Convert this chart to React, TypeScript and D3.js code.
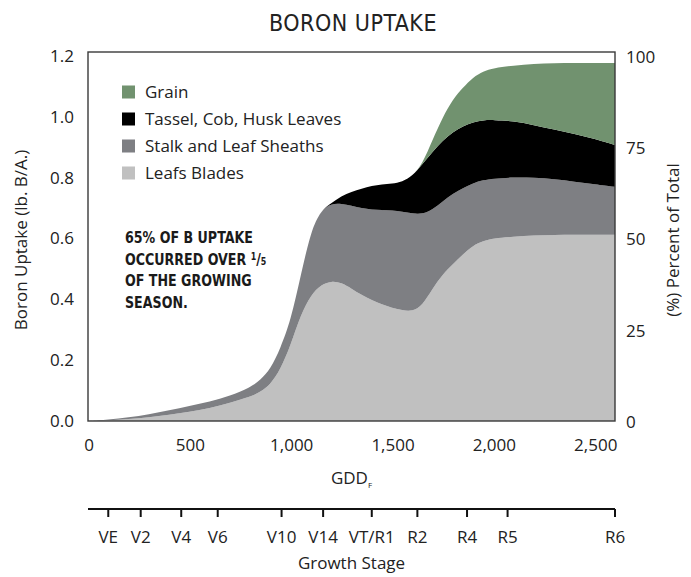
import * as d3 from "d3";

// GDD sample points and per-part boron uptake (lb. B/A.)
const gdd = [0, 100, 200, 300, 400, 500, 600, 700, 800, 850, 900, 950, 1000, 1050, 1100, 1150, 1200, 1250, 1300, 1350, 1400, 1450, 1500, 1550, 1600, 1650, 1700, 1750, 1800, 1850, 1900, 1950, 2000, 2100, 2200, 2300, 2400, 2500, 2600];
const leafBlades = [0, 0.002, 0.006, 0.012, 0.02, 0.03, 0.042, 0.06, 0.08, 0.095, 0.12, 0.17, 0.25, 0.35, 0.415, 0.448, 0.46, 0.455, 0.435, 0.414, 0.397, 0.383, 0.372, 0.364, 0.36, 0.38, 0.435, 0.482, 0.515, 0.548, 0.577, 0.592, 0.6, 0.606, 0.61, 0.612, 0.612, 0.612, 0.612];
const stalkSheaths = [0, 0.002, 0.006, 0.01, 0.015, 0.02, 0.021, 0.023, 0.03, 0.04, 0.05, 0.07, 0.08, 0.13, 0.21, 0.245, 0.255, 0.26, 0.273, 0.286, 0.298, 0.311, 0.32, 0.324, 0.322, 0.3, 0.26, 0.24, 0.232, 0.218, 0.205, 0.2, 0.197, 0.195, 0.19, 0.183, 0.175, 0.166, 0.158];
const tasselCobHusk = [0, 0, 0, 0, 0, 0, 0, 0, 0, 0, 0, 0, 0, 0, 0, 0, 0, 0.025, 0.045, 0.064, 0.078, 0.084, 0.088, 0.098, 0.123, 0.165, 0.19, 0.2, 0.203, 0.203, 0.2, 0.197, 0.193, 0.185, 0.173, 0.163, 0.157, 0.15, 0.137];
const grain = [0, 0, 0, 0, 0, 0, 0, 0, 0, 0, 0, 0, 0, 0, 0, 0, 0, 0, 0, 0, 0, 0, 0, 0, 0, 0, 0.04, 0.077, 0.108, 0.127, 0.148, 0.161, 0.17, 0.183, 0.201, 0.218, 0.233, 0.249, 0.27];

const seriesKeys = ["leaf", "stalk", "tassel", "grain"];
const seriesColors: Record<string, string> = { leaf: "#c0c0c0", stalk: "#7e7f83", tassel: "#000000", grain: "#71926f" };
const legendItems = [
  { key: "grain", label: "Grain" },
  { key: "tassel", label: "Tassel, Cob, Husk Leaves" },
  { key: "stalk", label: "Stalk and Leaf Sheaths" },
  { key: "leaf", label: "Leafs Blades" },
];

const leftTicks = [0, 0.2, 0.4, 0.6, 0.8, 1.0, 1.2];
const rightTicks = [0, 25, 50, 75, 100];
const xTicks = [0, 500, 1000, 1500, 2000, 2500];
const stageNames = ["VE", "V2", "V4", "V6", "V10", "V14", "VT/R1", "R2", "R4", "R5", "R6"];
const stageGdd = [100, 260, 460, 640, 955, 1160, 1400, 1625, 1870, 2070, 2600];

const font = "'Open Sans', Lato, sans-serif";
const condensed = "'Liberation Sans Narrow', 'DejaVu Sans Condensed', sans-serif";
const fs = 17;

export default function App() {
  const width = 691;
  const height = 577;
  const left = 88, right = 615, top = 52, bottom = 421;

  const x = d3.scaleLinear().domain([0, 2600]).range([left, right]);
  const y = d3.scaleLinear().domain([0, 1.2]).range([bottom, 56]);
  const yPct = d3.scaleLinear().domain([0, 100]).range([422, 57]);

  const rows = gdd.map((g, i) => ({
    gdd: g,
    leaf: leafBlades[i],
    stalk: stalkSheaths[i],
    tassel: tasselCobHusk[i],
    grain: grain[i],
  }));
  const stacked = d3.stack<any>().keys(seriesKeys)(rows);

  const area = d3
    .area<any>()
    .x((d) => x(d.data.gdd))
    .y0((d) => y(d[0]))
    .y1((d) => y(d[1]))
    .curve(d3.curveBasis);

  const stageY = 509;

  return (
    <svg width={width} height={height} style={{ display: "block", position: "absolute", left: 0, top: 0 }}>
      <rect width={width} height={height} fill="#fff" />
      <text x={353} y={31} textAnchor="middle" fontFamily={condensed} fontSize={23} fill="#222" letterSpacing={0.5}>
        BORON UPTAKE
      </text>

      {stacked.map((s) => (
        <path key={s.key} d={area(s) || ""} fill={seriesColors[s.key]} />
      ))}

      <rect x={left} y={top} width={right - left} height={bottom - top} fill="none" stroke="#3a3a3a" strokeWidth={1.4} />

      {leftTicks.map((t) => (
        <text key={t} x={74} y={y(t)} dy="0.35em" textAnchor="end" fontFamily={font} fontSize={fs} fill="#222">
          {d3.format(".1f")(t)}
        </text>
      ))}
      {rightTicks.map((t) => (
        <text key={t} x={626} y={yPct(t)} dy="0.35em" textAnchor="start" fontFamily={font} fontSize={fs} fill="#222">
          {t}
        </text>
      ))}
      {xTicks.map((t) => (
        <text key={t} x={x(t) + 1} y={445} dy="0.35em" textAnchor="middle" fontFamily={font} fontSize={fs} fill="#222">
          {d3.format(",")(t)}
        </text>
      ))}

      <text x={(left + right) / 2} y={484} textAnchor="middle" fontFamily={font} fontSize={fs} fill="#222">
        GDD<tspan fontSize={8} dy={4}>F</tspan>
      </text>
      <text transform="translate(27,240) rotate(-90)" textAnchor="middle" fontFamily={font} fontSize={fs} fill="#222">
        Boron Uptake (lb. B/A.)
      </text>
      <text transform="translate(679,240) rotate(-90)" textAnchor="middle" fontFamily={font} fontSize={fs} fill="#222">
        (%) Percent of Total
      </text>

      {legendItems.map((item, i) => (
        <g key={item.key} transform={`translate(122,${92 + i * 27})`}>
          <rect x={0} y={-6.5} width={13} height={13} fill={seriesColors[item.key]} />
          <text x={23} y={0} dy="0.35em" fontFamily={font} fontSize={fs} fill="#222">
            {item.label}
          </text>
        </g>
      ))}

      <g transform="translate(125,0) scale(0.88,1)" fontFamily={condensed} fontWeight="bold" fontSize={16} fill="#1a1a1a">
        <text x={0} y={243}>65% OF B UPTAKE</text>
        <text x={0} y={265}>
          OCCURRED OVER <tspan fontSize={10} dy={-5}>1</tspan>
          <tspan dy={5}>/</tspan>
          <tspan fontSize={10}>5</tspan>
        </text>
        <text x={0} y={286}>OF THE GROWING</text>
        <text x={0} y={308}>SEASON.</text>
      </g>

      <line x1={left} x2={x(2600)} y1={stageY} y2={stageY} stroke="#111" strokeWidth={2} />
      {stageGdd.map((g, i) => (
        <g key={stageNames[i]}>
          <line x1={x(g)} x2={x(g)} y1={stageY} y2={stageY + 8} stroke="#111" strokeWidth={2} />
          <text x={x(g)} y={537} dy="0.35em" textAnchor="middle" fontFamily={font} fontSize={fs} fill="#222">
            {stageNames[i]}
          </text>
        </g>
      ))}
      <text x={(left + right) / 2} y={569} textAnchor="middle" fontFamily={font} fontSize={fs} fill="#222">
        Growth Stage
      </text>
    </svg>
  );
}
